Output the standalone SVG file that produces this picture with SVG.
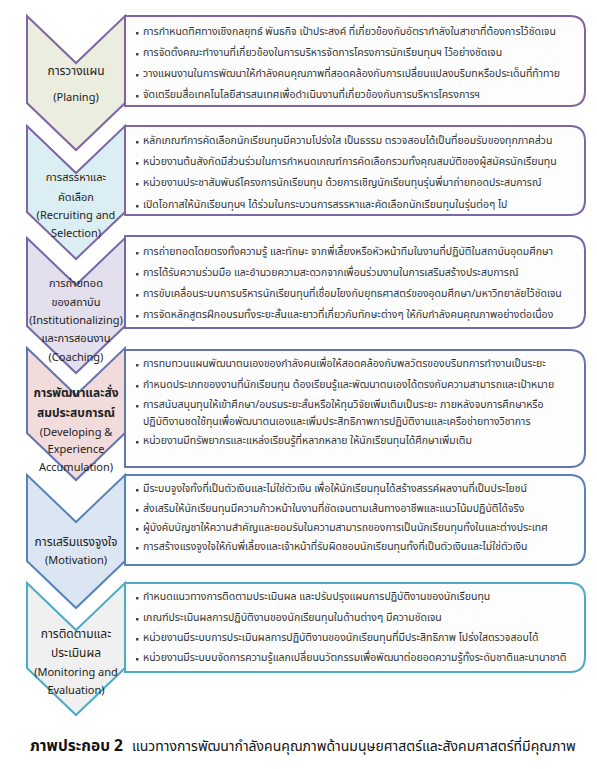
<svg xmlns="http://www.w3.org/2000/svg" width="597" height="769" viewBox="0 0 597 769">
<style>
.bx{fill:#fdfdfd;stroke-width:2}
.ch{stroke-width:2}
.t{font-family:"Noto Sans Thai","Noto Sans","DejaVu Sans",sans-serif;font-size:10.5px;fill:#333}
.c{font-family:"Noto Sans Thai","Noto Sans","DejaVu Sans",sans-serif;font-size:11px;fill:#222;text-anchor:middle}
.cb{font-weight:bold;font-size:12px}
.b{fill:#444}
.cap{font-family:"Noto Sans Thai","Liberation Sans",sans-serif;font-size:14px;fill:#111}
</style>
<rect width="597" height="769" fill="#ffffff"/>
<g id="connectors"></g>

<g id="node6">
<path class="ch" fill="#F0F0F0" stroke="#4BACC6" d="M27,583 L76,630 L125,583 L125,668 L76,715 L27,668 Z"/>
<text class="c" x="76" y="638" style="font-size:12px">การติดตามและ</text>
<text class="c" x="76" y="657" style="font-size:12px">ประเมินผล</text>
<text class="c" x="76" y="676">(Monitoring and</text>
<text class="c" x="76" y="694">Evaluation)</text>
<path class="bx" stroke="#4BACC6" d="M125,583 H570 Q585,583 585,598 V657 Q585,672 570,672 H125 Z"/>
<rect class="b" x="136" y="597" width="2.5" height="2.5"/><text class="t" x="143" y="600">กำหนดแนวทางการติดตามประเมินผล  และปรับปรุงแผนการปฏิบัติงานของนักเรียนทุน</text>
<rect class="b" x="136" y="618" width="2.5" height="2.5"/><text class="t" x="143" y="621">เกณฑ์ประเมินผลการปฏิบัติงานของนักเรียนทุนในด้านต่างๆ  มีความชัดเจน</text>
<rect class="b" x="136" y="638" width="2.5" height="2.5"/><text class="t" x="143" y="641">หน่วยงานมีระบบการประเมินผลการปฏิบัติงานของนักเรียนทุนที่มีประสิทธิภาพ  โปร่งใสตรวจสอบได้</text>
<rect class="b" x="136" y="658" width="2.5" height="2.5"/><text class="t" x="143" y="661">หน่วยงานมีระบบบจัดการความรู้แลกเปลี่ยนนวัตกรรมเพื่อพัฒนาต่อยอดความรู้ทั้งระดับชาติและนานาชาติ</text>
</g>

<g id="node5">
<path class="ch" fill="#DCE6F2" stroke="#5683BC" d="M27,475 L76,522 L125,475 L125,561 L76,608 L27,561 Z"/>
<text class="c" x="76" y="546" style="font-size:12px">การเสริมแรงจูงใจ</text>
<text class="c" x="76" y="564">(Motivation)</text>
<path class="bx" stroke="#5683BC" d="M125,475 H570 Q585,475 585,490 V550 Q585,565 570,565 H125 Z"/>
<rect class="b" x="136" y="489" width="2.5" height="2.5"/><text class="t" x="143" y="492">มีระบบจูงใจทั้งที่เป็นตัวเงินและไม่ใช่ตัวเงิน  เพื่อให้นักเรียนทุนได้สร้างสรรค์ผลงานที่เป็นประโยชน์</text>
<rect class="b" x="136" y="509" width="2.5" height="2.5"/><text class="t" x="143" y="512">ส่งเสริมให้นักเรียนทุนมีความก้าวหน้าในงานที่ชัดเจนตามเส้นทางอาชีพและแนวโน้มปฏิบัติได้จริง</text>
<rect class="b" x="136" y="528" width="2.5" height="2.5"/><text class="t" x="143" y="531">ผู้บังคับบัญชาให้ความสำคัญและยอมรับในความสามารถของการเป็นนักเรียนทุนทั้งในและต่างประเทศ</text>
<rect class="b" x="136" y="547" width="2.5" height="2.5"/><text class="t" x="143" y="550">การสร้างแรงจูงใจให้กับพี่เลี้ยงและเจ้าหน้าที่รับผิดชอบนักเรียนทุนทั้งที่เป็นตัวเงินและไม่ใช่ตัวเงิน</text>
</g>

<g id="node4">
<path class="ch" fill="#F2DCDB" stroke="#6474B2" d="M27,348 L76,395 L125,348 L125,433 L76,480 L27,433 Z"/>
<text class="c cb" x="76" y="397">การพัฒนาและสั่ง</text>
<text class="c cb" x="76" y="417">สมประสบการณ์</text>
<text class="c" x="76" y="436">(Developing &amp;</text>
<text class="c" x="76" y="453">Experience</text>
<text class="c" x="76" y="471">Accumulation)</text>
<path class="bx" stroke="#6474B2" d="M125,350 H570 Q585,350 585,365 V452 Q585,467 570,467 H125 Z"/>
<rect class="b" x="136" y="364" width="2.5" height="2.5"/><text class="t" x="143" y="367">การทบทวนแผนพัฒนาตนเองของกำลังคนเพื่อให้สอดคล้องกับพลวัตรของบริบทการทำงานเป็นระยะ</text>
<rect class="b" x="136" y="385" width="2.5" height="2.5"/><text class="t" x="143" y="388">กำหนดประเภทของงานที่นักเรียนทุน  ต้องเรียนรู้และพัฒนาตนเองได้ตรงกับความสามารถและเป้าหมาย</text>
<rect class="b" x="136" y="405" width="2.5" height="2.5"/><text class="t" x="143" y="408">การสนับสนุนทุนให้เข้าศึกษา/อบรมระยะสั้นหรือให้ทุนวิจัยเพิ่มเติมเป็นระยะ  ภายหลังจบการศึกษาหรือ</text>
<text class="t" x="143" y="425">ปฏิบัติงานชดใช้ทุนเพื่อพัฒนาตนเองและเพิ่มประสิทธิภาพการปฏิบัติงานและเครือข่ายทางวิชาการ</text>
<rect class="b" x="136" y="441" width="2.5" height="2.5"/><text class="t" x="143" y="444">หน่วยงานมีทรัพยากรและแหล่งเรียนรู้ที่หลากหลาย  ให้นักเรียนทุนได้ศึกษาเพิ่มเติม</text>
</g>

<g id="node3">
<path class="ch" fill="#E4DFEC" stroke="#6F6AAC" d="M27,238 L76,285 L125,238 L125,326 L76,373 L27,326 Z"/>
<text class="c" x="76" y="287">การถ่ายทอด</text>
<text class="c" x="76" y="306">ของสถาบัน</text>
<text class="c" x="76" y="324">(Institutionalizing)</text>
<text class="c" x="76" y="342">และการสอนงาน</text>
<text class="c" x="76" y="361">(Coaching)</text>
<path class="bx" stroke="#6F6AAC" d="M125,236 H570 Q585,236 585,251 V313 Q585,328 570,328 H125 Z"/>
<rect class="b" x="136" y="252" width="2.5" height="2.5"/><text class="t" x="143" y="255">การถ่ายทอดโดยตรงทั้งความรู้  และทักษะ  จากพี่เลี้ยงหรือหัวหน้าทีมในงานที่ปฏิบัติในสถาบันอุดมศึกษา</text>
<rect class="b" x="136" y="273" width="2.5" height="2.5"/><text class="t" x="143" y="276">การได้รับความร่วมมือ  และอำนวยความสะดวกจากเพื่อนร่วมงานในการเสริมสร้างประสบการณ์</text>
<rect class="b" x="136" y="294" width="2.5" height="2.5"/><text class="t" x="143" y="297">การขับเคลื่อนระบบการบริหารนักเรียนทุนที่เชื่อมโยงกับยุทธศาสตร์ของอุดมศึกษา/มหาวิทยาลัยไว้ชัดเจน</text>
<rect class="b" x="136" y="315" width="2.5" height="2.5"/><text class="t" x="143" y="318">การจัดหลักสูตรฝึกอบรมทั้งระยะสั้นและยาวที่เกี่ยวกับทักษะต่างๆ  ให้กับกำลังคนคุณภาพอย่างต่อเนื่อง</text>
</g>

<g id="node2">
<path class="ch" fill="#DBEEF4" stroke="#7B66A6" d="M27,126 L76,173 L125,126 L125,212 L76,259 L27,212 Z"/>
<text class="c" x="76" y="181">การสรรหาและ</text>
<text class="c" x="76" y="201">คัดเลือก</text>
<text class="c" x="76" y="219">(Recruiting and</text>
<text class="c" x="76" y="237">Selection)</text>
<path class="bx" stroke="#7B66A6" d="M125,126 H570 Q585,126 585,141 V200 Q585,215 570,215 H125 Z"/>
<rect class="b" x="136" y="141" width="2.5" height="2.5"/><text class="t" x="143" y="144">หลักเกณฑ์การคัดเลือกนักเรียนทุนมีความโปร่งใส  เป็นธรรม  ตรวจสอบได้เป็นที่ยอมรับของทุกภาคส่วน</text>
<rect class="b" x="136" y="162" width="2.5" height="2.5"/><text class="t" x="143" y="165">หน่วยงานต้นสังกัดมีส่วนร่วมในการกำหนดเกณฑ์การคัดเลือกรวมทั้งคุณสมบัติของผู้สมัครนักเรียนทุน</text>
<rect class="b" x="136" y="183" width="2.5" height="2.5"/><text class="t" x="143" y="186">หน่วยงานประชาสัมพันธ์โครงการนักเรียนทุน  ด้วยการเชิญนักเรียนทุนรุ่นพี่มาถ่ายทอดประสบการณ์</text>
<rect class="b" x="136" y="205" width="2.5" height="2.5"/><text class="t" x="143" y="208">เปิดโอกาสให้นักเรียนทุนฯ  ได้ร่วมในกระบวนการสรรหาและคัดเลือกนักเรียนทุนในรุ่นต่อๆ  ไป</text>
</g>

<g id="node1">
<path class="ch" fill="#EBEDDF" stroke="#8064A2" d="M27,16 L76,63 L125,16 L125,103 L76,150 L27,103 Z"/>
<text class="c" x="76" y="75" style="font-size:12px">การวางแผน</text>
<text class="c" x="76" y="101">(Planing)</text>
<path class="bx" stroke="#8064A2" d="M125,16 H570 Q585,16 585,31 V91 Q585,106 570,106 H125 Z"/>
<rect class="b" x="136" y="32" width="2.5" height="2.5"/><text class="t" x="143" y="35">การกำหนดทิศทางเชิงกลยุทธ์  พันธกิจ  เป้าประสงค์  ที่เกี่ยวข้องกับอัตรากำลังในสาขาที่ต้องการไว้ชัดเจน</text>
<rect class="b" x="136" y="53" width="2.5" height="2.5"/><text class="t" x="143" y="56">การจัดตั้งคณะทำงานที่เกี่ยวข้องในการบริหารจัดการโครงการนักเรียนทุนฯ  ไว้อย่างชัดเจน</text>
<rect class="b" x="136" y="74" width="2.5" height="2.5"/><text class="t" x="143" y="77">วางแผนงานในการพัฒนาให้กำลังคนคุณภาพที่สอดคล้องกับการเปลี่ยนแปลงบริบทหรือประเด็นที่ท้าทาย</text>
<rect class="b" x="136" y="95" width="2.5" height="2.5"/><text class="t" x="143" y="98">จัดเตรียมสื่อเทคโนโลยีสารสนเทศเพื่อดำเนินงานที่เกี่ยวข้องกับการบริหารโครงการฯ</text>
</g>

<g id="caption">
<text class="cap" x="30" y="751"><tspan font-weight="bold" font-size="15.5">ภาพประกอบ 2</tspan><tspan dx="9">แนวทางการพัฒนากำลังคนคุณภาพด้านมนุษยศาสตร์และสังคมศาสตร์ที่มีคุณภาพ</tspan></text>
</g>
</svg>
